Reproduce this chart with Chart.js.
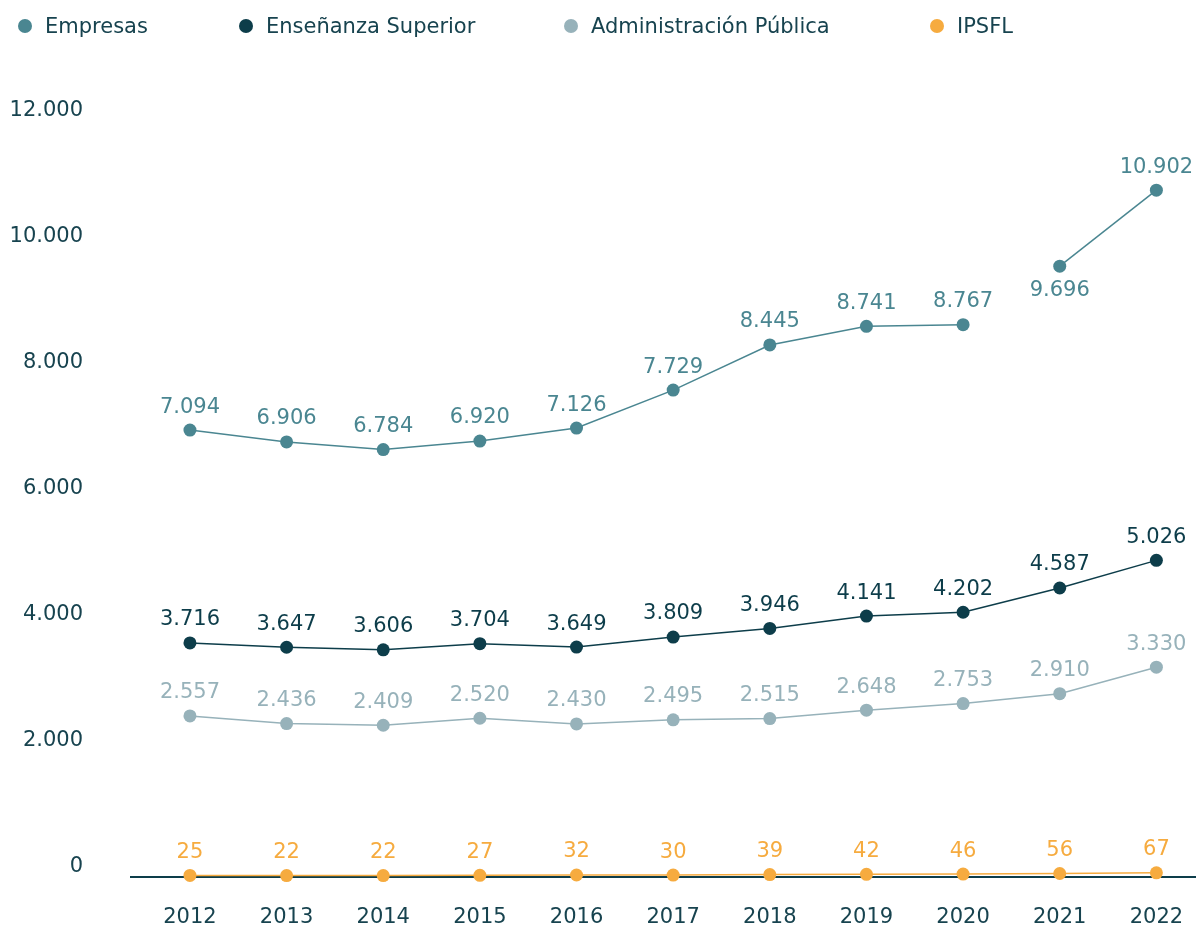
<!DOCTYPE html>
<html>
<head>
<meta charset="utf-8">
<script src="https://cdn.jsdelivr.net/npm/chart.js@4/dist/chart.umd.min.js"></script>
<style>
  body { margin: 0; background: #fff; font-family: "DejaVu Sans", sans-serif; }
  #wrap { position: relative; width: 1196px; height: 927px; }
  #legend { position: absolute; top: 0; left: 0; width: 1196px; height: 50px; }
  .item { position: absolute; top: 14px; display: flex; align-items: center; font-size: 21px; line-height: 24px; color: #17434f; white-space: nowrap; }
  .dot { width: 14px; height: 14px; border-radius: 50%; margin-right: 13px; }
  canvas { display: block; }
</style>
</head>
<body>
<div id="wrap">
  <div id="legend"></div>
  <canvas id="chart" width="1196" height="927"></canvas>
</div>
<script>
// data
const years = [2012, 2013, 2014, 2015, 2016, 2017, 2018, 2019, 2020, 2021, 2022];
const empresas = [7094, 6906, 6784, 6920, 7126, 7729, 8445, 8741, 8767, 9696, 10902];
const ensenanza = [3716, 3647, 3606, 3704, 3649, 3809, 3946, 4141, 4202, 4587, 5026];
const administracion = [2557, 2436, 2409, 2520, 2430, 2495, 2515, 2648, 2753, 2910, 3330];
const ipsfl = [25, 22, 22, 27, 32, 30, 39, 42, 46, 56, 67];
const seriesNames = ['Empresas', 'Enseñanza Superior', 'Administración Pública', 'IPSFL'];
const yTicks = [0, 2000, 4000, 6000, 8000, 10000, 12000];
const empresasGapAfter = 2020; // no line drawn between 2020 and 2021

const colors = ['#4a8691', '#0d3d4a', '#97b2ba', '#f6ab3f'];
const textColor = '#17434f';

Chart.defaults.font.family = '"DejaVu Sans", sans-serif';

// thousands separator with a dot
function fmt(v) {
  return String(v).replace(/\B(?=(\d{3})+(?!\d))/g, '.');
}

// legend as html, spaced like the original
const legendLefts = [18, 239, 564, 930];
const legend = document.getElementById('legend');
seriesNames.forEach((name, i) => {
  const item = document.createElement('div');
  item.className = 'item';
  item.style.left = legendLefts[i] + 'px';
  item.innerHTML = `<span class="dot" style="background:${colors[i]}"></span>${name}`;
  legend.appendChild(item);
});

// value labels above (or below) each point
const valueLabels = {
  id: 'valueLabels',
  afterDatasetsDraw(chart) {
    const ctx = chart.ctx;
    ctx.save();
    ctx.font = '21px "DejaVu Sans"';
    ctx.textAlign = 'center';
    ctx.textBaseline = 'middle';
    chart.data.datasets.forEach((ds, i) => {
      const meta = chart.getDatasetMeta(i);
      ctx.fillStyle = ds.borderColor;
      meta.data.forEach((pt, j) => {
        const below = (ds.labelsBelow || []).includes(j);
        ctx.fillText(fmt(ds.data[j].y), pt.x, pt.y + (below ? 24 : -23));
      });
    });
    ctx.restore();
  }
};

const allSeries = [empresas, ensenanza, administracion, ipsfl];
const datasets = allSeries.map((vals, i) => ({
  label: seriesNames[i],
  data: vals.map((v, j) => ({ x: years[j], y: v })),
  borderColor: colors[i],
  backgroundColor: colors[i],
  borderWidth: 1.5,
  pointRadius: 6.5,
  pointBorderWidth: 0,
  clip: false
}));
datasets[0].labelsBelow = [years.indexOf(2021)];
datasets[0].segment = {
  borderColor: c => c.p0.parsed.x === empresasGapAfter ? 'transparent' : undefined
};

new Chart(document.getElementById('chart'), {
  type: 'line',
  data: { datasets },
  options: {
    responsive: false,
    animation: false,
    layout: { autoPadding: false, padding: { top: 121, right: 0, bottom: 0, left: 0 } },
    plugins: { legend: { display: false }, tooltip: { enabled: false } },
    scales: {
      x: {
        type: 'linear',
        min: 2011.39,
        max: 2022.41,
        afterBuildTicks: s => { s.ticks = years.map(v => ({ value: v })); },
        afterFit: s => { s.height = 50; s.paddingLeft = 0; s.paddingRight = 0; },
        grid: { display: false },
        border: { display: true, color: '#0d3d4a', width: 2 },
        ticks: { padding: 20, color: textColor, font: { size: 21 }, callback: v => String(v) }
      },
      y: {
        min: 0,
        max: 12000,
        afterBuildTicks: s => { s.ticks = yTicks.map(v => ({ value: v })); },
        afterFit: s => { s.width = 131; s.paddingTop = 0; s.paddingBottom = 0; },
        grid: { display: false },
        border: { display: false },
        ticks: { padding: 40, labelOffset: -10, color: textColor, font: { size: 21 }, callback: v => fmt(v) }
      }
    }
  },
  plugins: [valueLabels]
});
</script>
</body>
</html>
